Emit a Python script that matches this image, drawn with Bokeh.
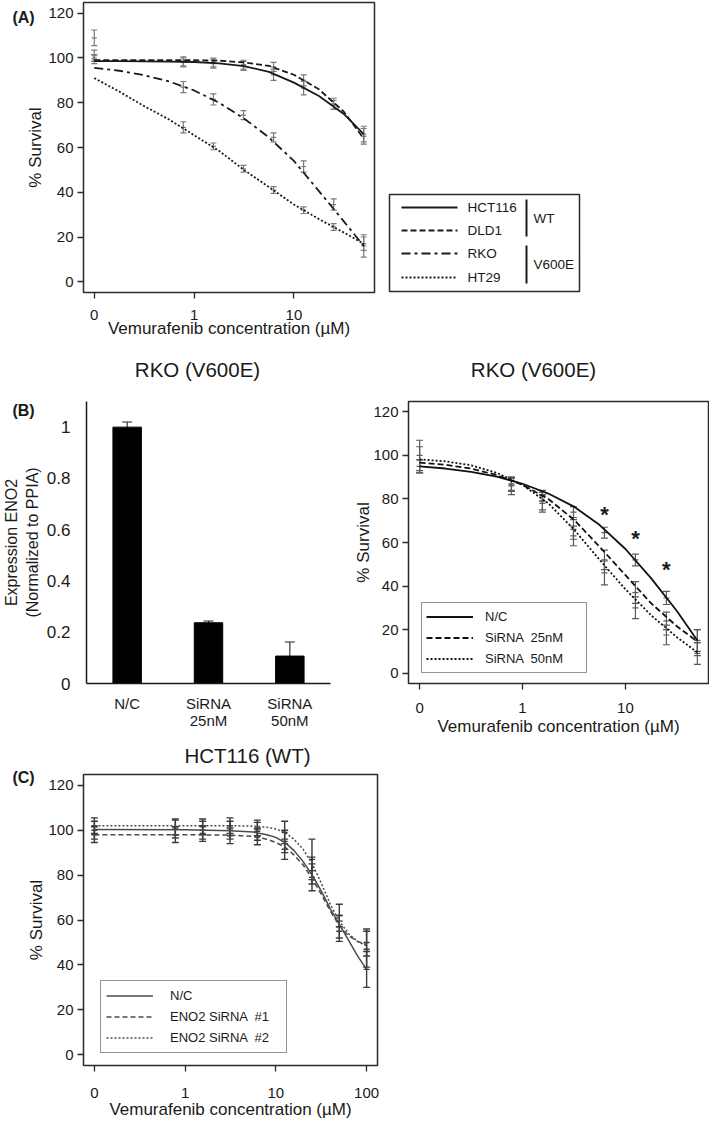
from bokeh.plotting import figure
from bokeh.models import (ColumnDataSource, Range1d, FixedTicker, Whisker, TeeHead,
                          Legend, LegendItem, FactorRange, GridBox)
from bokeh.layouts import column, row
from bokeh.embed import file_html
from bokeh.resources import INLINE
from bokeh.core.properties import value

FONT = "Liberation Sans"
TXT = "#1a1a1a"

# ----------------------------- data -----------------------------
# (A) four colorectal lines, % survival vs vemurafenib
conc_a = [0, 0.78, 1.56, 3.125, 6.25, 12.5, 25, 50]
hct116_mean = [101, 98, 97.5, 96.5, 92.5, 86.5, 79, 66]
hct116_err = [2.5, 2, 2, 2, 2.5, 3, 2, 3.5]
dld1_mean = [109, 98.5, 98, 97, 96, 90, 79.5, 65]
dld1_err = [3.5, 2, 2, 2, 2, 2.5, 2.5, 3.5]
rko_mean = [100, 87, 81.5, 74.5, 64.5, 51.5, 34.5, 16]
rko_err = [1.5, 2.5, 2.5, 2, 2, 2.5, 2.5, 5]
ht29_mean = [99.5, 69, 60.5, 50.5, 41, 32, 24.5, 17]
ht29_err = [2, 2.5, 1.5, 1.5, 1.5, 1.5, 1.5, 3]
# fitted curves (x = axis position, "0" drawn at 0.1)
fit_x_a = [0.1, 0.178, 0.316, 0.562, 1, 1.78, 3.16, 5.62, 10, 17.8, 31.6, 50]
hct116_fit = [98.6, 98.6, 98.5, 98.4, 98.2, 97.6, 96.4, 93.8, 89, 83, 75, 66]
dld1_fit = [99, 99, 99, 99, 99, 98.8, 98, 96.5, 92.5, 86, 76, 64]
rko_fit = [95.6, 94.3, 92.3, 89.5, 85.5, 80, 73, 64.5, 54, 40.5, 27, 16]
ht29_fit = [91, 85, 78.5, 72.5, 65.5, 58.5, 50, 42.3, 34.5, 28, 22, 17]
lines_a = ["HCT116", "DLD1", "RKO", "HT29"]
groups_a = ["WT", "V600E"]

# (B) left: ENO2 expression
bar_groups = ["N/C", "SiRNA\n25nM", "SiRNA\n50nM"]
expr_mean = [1.0, 0.237, 0.107]
expr_err = [0.02, 0.007, 0.055]

# (B) right: RKO survival with siRNA
conc_b = [0, 0.78, 1.56, 3.125, 6.25, 12.5, 25, 50]
b_nc_mean = [95, 87, 81.5, 74, 64.5, 52, 34.5, 15]
b_nc_err = [3, 3, 2.5, 2.5, 2.5, 2.7, 3, 5]
b_s25_mean = [98, 86, 79, 66, 52, 37, 24, 14]
b_s25_err = [6, 4, 4, 4.5, 4.5, 5, 4, 6]
b_s50_mean = [100, 86.5, 78, 63, 46, 30, 17.5, 9]
b_s50_err = [7, 3, 4, 4.5, 5.5, 5, 4.5, 5]
fit_x_b = [0.1, 0.178, 0.316, 0.562, 1, 1.78, 3.16, 5.62, 10, 17.8, 31.6, 50]
b_nc_fit = [95, 94, 92.5, 90.3, 87, 82.5, 76.5, 68, 57, 43.5, 28.5, 15]
b_s25_fit = [96.7, 95.7, 94, 91, 86.5, 80, 70.5, 58, 45, 32, 21.5, 14.5]
b_s50_fit = [98.2, 97.3, 95.5, 92, 86.5, 78, 66, 52, 38.5, 26.5, 16.5, 9.5]
b_labels = ["N/C", "SiRNA  25nM", "SiRNA  50nM"]
star_x = [6.25, 12.5, 25]
star_y = [72, 61, 46.5]

# (C) HCT116 survival with ENO2 siRNA
conc_c = [0, 0.78, 1.56, 3.125, 6.25, 12.5, 25, 50, 100]
c_nc_mean = [100, 100.5, 100, 100, 99.5, 95, 82, 57, 38]
c_nc_err = [4, 4, 4, 4, 4, 5, 6, 5, 8]
c_s1_mean = [98, 98, 98.5, 97.5, 97, 91.5, 79, 55, 47]
c_s1_err = [3.5, 3.5, 3.5, 3.5, 3.5, 4.5, 6, 4.5, 8]
c_s2_mean = [102, 101.5, 101.5, 102, 101, 99, 87, 62, 50]
c_s2_err = [3.5, 3.5, 3.5, 3.5, 3.5, 5, 9, 5, 6]
fit_x_c = [0.1, 1, 3.16, 5.62, 7.94, 10, 12.6, 15.8, 20, 25.1, 31.6, 39.8, 50.1, 63.1, 79.4, 100]
c_nc_fit = [100.3, 100.2, 99.8, 99.2, 98, 96.8, 94.5, 91, 86, 80, 73, 65, 58, 51, 44, 38]
c_s1_fit = [98, 98, 97.8, 97.2, 96, 94.5, 92.5, 89, 84.5, 78.5, 71.5, 64, 57.5, 53, 50.5, 49]
c_s2_fit = [102, 102, 102, 101.8, 101.3, 100.5, 99, 96, 91.5, 85, 76.5, 67, 59.5, 54, 50.5, 48.5]
c_labels = ["N/C", "ENO2 SiRNA  #1", "ENO2 SiRNA  #2"]

panel_tags = ["(A)", "(B)", "(C)"]
titles = ["RKO (V600E)", "RKO (V600E)", "HCT116 (WT)"]

y_ticks = [0, 20, 40, 60, 80, 100, 120]
ZERO_POS = 0.1  # the "0" concentration sits one decade below 1


def pos(c):
    return [v if v > 0 else ZERO_POS for v in c]


def survival_fig(width, height, borders, xr, xticks, xlabels, tstand, lstand, ylstand):
    l, r, t, b = borders
    p = figure(width=width, height=height, x_axis_type="log",
               x_range=Range1d(*xr), y_range=Range1d(-4.8, 124.8),
               output_backend="svg", toolbar_location=None,
               min_border_left=l, min_border_right=r, min_border_top=t, min_border_bottom=b)
    p.grid.visible = False
    p.outline_line_color = "#2a2a2a"
    p.outline_line_width = 1.5
    p.xaxis.ticker = FixedTicker(ticks=xticks)
    p.xaxis.major_label_overrides = {tk: lab for tk, lab in zip(xticks, xlabels)}
    p.yaxis.ticker = FixedTicker(ticks=y_ticks)
    for ax in p.axis:
        ax.axis_line_color = None
        ax.major_tick_line_color = "#2a2a2a"
        ax.major_tick_line_width = 1.3
        ax.major_tick_out = 6
        ax.major_tick_in = 0
        ax.minor_tick_line_color = None
        ax.major_label_text_font = FONT
        ax.major_label_text_color = TXT
        ax.major_label_text_font_size = "15px"
        ax.axis_label_text_font = FONT
        ax.axis_label_text_font_style = "normal"
        ax.axis_label_text_font_size = "17px"
        ax.axis_label_text_color = TXT
    p.xaxis.major_label_standoff = tstand
    p.xaxis.axis_label_standoff = lstand
    p.yaxis.major_label_standoff = 4
    p.yaxis.axis_label_standoff = ylstand
    p.xaxis.axis_label = "Vemurafenib concentration (µM)"
    p.yaxis.axis_label = "% Survival"
    return p


def series(p, x, mean, err, color, lw=1.2, head=7, mark=6):
    src = ColumnDataSource(dict(x=pos(x), m=mean,
                                lo=[m - e for m, e in zip(mean, err)],
                                hi=[m + e for m, e in zip(mean, err)]))
    p.add_layout(Whisker(base="x", upper="hi", lower="lo", source=src,
                         line_color=color, line_width=lw,
                         upper_head=TeeHead(size=head, line_color=color, line_width=lw),
                         lower_head=TeeHead(size=head, line_color=color, line_width=lw)))
    p.scatter("x", "m", source=src, marker="dash", size=mark, line_color=color, line_width=lw)


# ----------------------------- panel A -----------------------------
pa = survival_fig(380, 345, (83, 6, 2, 53), (10 ** -1.108, 10 ** 1.807),
                  [0.1, 1, 10], ["0", "1", "10"], 11, -4, 0)
dash_a = ["solid", "6 3", "9 4 3 4", "2 2"]
GRAY_A = "#7a7a7a"
for mean, err in [(hct116_mean, hct116_err), (dld1_mean, dld1_err),
                  (rko_mean, rko_err), (ht29_mean, ht29_err)]:
    series(pa, conc_a, mean, err, GRAY_A, lw=1.2, head=6, mark=5)
for fit, d in zip([hct116_fit, dld1_fit, rko_fit, ht29_fit], dash_a):
    pa.line(fit_x_a, fit, line_color="#1a1a1a", line_width=1.8, line_dash=d)

# ----------------------------- panel B left -----------------------------
pbl = figure(width=338, height=395, x_range=FactorRange(factors=bar_groups),
             y_range=Range1d(0, 1.1), min_border_left=83, min_border_right=8,
             min_border_top=56, min_border_bottom=57,
             output_backend="svg", toolbar_location=None)
pbl.grid.visible = False
pbl.outline_line_color = None
bsrc = ColumnDataSource(dict(g=bar_groups, v=expr_mean,
                             lo=[m - e for m, e in zip(expr_mean, expr_err)],
                             hi=[m + e for m, e in zip(expr_mean, expr_err)]))
pbl.vbar(x="g", top="v", width=0.35, source=bsrc, fill_color="black", line_color="black")
pbl.add_layout(Whisker(base="g", upper="hi", lower="lo", source=bsrc,
                       line_color="#222222", line_width=1.1,
                       upper_head=TeeHead(size=10, line_color="#222222", line_width=1.1),
                       lower_head=TeeHead(size=10, line_color="#222222", line_width=1.1)))
for ax in pbl.axis:
    ax.axis_line_color = "#1a1a1a"
    ax.axis_line_width = 1.5
    ax.major_tick_line_color = None
    ax.minor_tick_line_color = None
    ax.major_label_text_font = FONT
    ax.major_label_text_color = TXT
    ax.axis_label_text_font = FONT
    ax.axis_label_text_font_style = "normal"
    ax.axis_label_text_color = TXT
pbl.yaxis.ticker = FixedTicker(ticks=[0, 0.2, 0.4, 0.6, 0.8, 1.0])
pbl.yaxis.major_label_overrides = {0: "0", 0.2: "0.2", 0.4: "0.4", 0.6: "0.6", 0.8: "0.8", 1.0: "1"}
pbl.yaxis.major_label_text_font_size = "17px"
pbl.yaxis.major_label_standoff = 10
pbl.yaxis.axis_label = "Expression ENO2\n(Normalized to PPIA)"
pbl.yaxis.axis_label_text_font_size = "16px"
pbl.yaxis.axis_label_standoff = 3
pbl.xaxis.major_label_text_font_size = "15px"
pbl.xaxis.major_label_text_line_height = 1.05
pbl.xaxis.major_label_standoff = 5

# ----------------------------- panel B right -----------------------------
pbr = survival_fig(371, 395, (70, 1, 47, 57), (10 ** -1.108, 10 ** 1.807),
                   [0.1, 1, 10], ["0", "1", "10"], 13, 1, -3)
GRAY_B = "#5a5a5a"
for mean, err in [(b_nc_mean, b_nc_err), (b_s25_mean, b_s25_err), (b_s50_mean, b_s50_err)]:
    series(pbr, conc_b, mean, err, GRAY_B, lw=1.2, head=7, mark=6)
rb = []
for fit, d in zip([b_nc_fit, b_s25_fit, b_s50_fit], ["solid", "6 3", "2 2"]):
    rb.append(pbr.line(fit_x_b, fit, line_color="#111111", line_width=1.8, line_dash=d))
pbr.text(x=star_x, y=star_y, text=["*"] * len(star_x), text_font=value(FONT),
         text_font_size=value("22px"), text_font_style="bold", text_align="center",
         text_baseline="middle", y_offset=-2, text_color=TXT)
leg_b = Legend(items=[LegendItem(label=lab, renderers=[r]) for lab, r in zip(b_labels, rb)],
               location=(13, 10), padding=4, spacing=2, margin=0,
               glyph_width=47, glyph_height=19, label_height=19, label_width=97,
               label_standoff=12, label_text_font=FONT, label_text_font_size="13px",
               label_text_color=TXT, border_line_color="#2a2a2a", border_line_width=1.5,
               background_fill_color="white", background_fill_alpha=1.0)
pbr.add_layout(leg_b)

# ----------------------------- panel C -----------------------------
pc = survival_fig(383, 381, (83, 6, 34, 54), (10 ** -1.12, 10 ** 2.12),
                  [0.1, 1, 10, 100], ["0", "1", "10", "100"], 16, -1, -1)
GRAY_C = "#3a3a3a"
for mean, err in [(c_nc_mean, c_nc_err), (c_s1_mean, c_s1_err), (c_s2_mean, c_s2_err)]:
    series(pc, conc_c, mean, err, GRAY_C, lw=1.4, head=7, mark=6)
rc = []
for fit, d in zip([c_nc_fit, c_s1_fit, c_s2_fit], ["solid", "5 3", "2 2"]):
    rc.append(pc.line(fit_x_c, fit, line_color="#4a4a4a", line_width=1.5, line_dash=d))
leg_c = Legend(items=[LegendItem(label=lab, renderers=[r]) for lab, r in zip(c_labels, rc)],
               location=(17, 12), padding=5, spacing=2, margin=0,
               glyph_width=47, glyph_height=19, label_height=19, label_width=111,
               label_standoff=17, label_text_font=FONT, label_text_font_size="13px",
               label_text_color=TXT, border_line_color="#2a2a2a", border_line_width=1.5,
               background_fill_color="white", background_fill_alpha=1.0)
pc.add_layout(leg_c)

# ------------- transparent page overlay for free text (pixel coordinates) -------------
ov = figure(width=709, height=1121, x_range=Range1d(0, 709), y_range=Range1d(1121, 0),
            x_axis_location=None, y_axis_location=None, min_border=0,
            output_backend="svg", toolbar_location=None)
ov.title.visible = False
ov.grid.visible = False
ov.outline_line_color = None
ov.background_fill_alpha = 0
ov.border_fill_alpha = 0
# panel tags and titles
ov.text(x=[23, 23, 23], y=[17, 410, 777], text=panel_tags, text_font=value(FONT),
        text_font_size=value("16px"), text_font_style="bold", text_align="center",
        text_baseline="middle", text_color=TXT)
ov.text(x=[197, 533, 247], y=[369, 369, 755], text=titles, text_font=value(FONT),
        text_font_size=value("20.5px"), text_align="center",
        text_baseline="middle", text_color=TXT)
# legend of panel A (outside the plot box, with WT / V600E brackets)
ov.quad(left=[389], right=[579], top=[194], bottom=[291], fill_color="white",
        line_color="#2a2a2a", line_width=1.5)
row_y = [207, 230, 253, 277]
for yy, d in zip(row_y, dash_a):
    ov.segment(x0=[401], x1=[457], y0=[yy], y1=[yy], line_color="#1a1a1a",
               line_width=2, line_dash=d)
ov.text(x=[467] * 4, y=row_y, text=lines_a, text_font=value(FONT),
        text_font_size=value("13.5px"), text_baseline="middle", text_color=TXT)
ov.segment(x0=[526, 526], x1=[526, 526], y0=[199, 245], y1=[236, 283],
           line_color="#1a1a1a", line_width=2)
ov.text(x=[533, 533], y=[218, 264], text=groups_a, text_font=value(FONT),
        text_font_size=value("13.5px"), text_baseline="middle", text_color=TXT)

main = column(row(pa), row(pbl, pbr), pc)
page = GridBox(children=[(main, 0, 0), (ov, 0, 0)])
open("out.html", "w").write(file_html(page, INLINE))
